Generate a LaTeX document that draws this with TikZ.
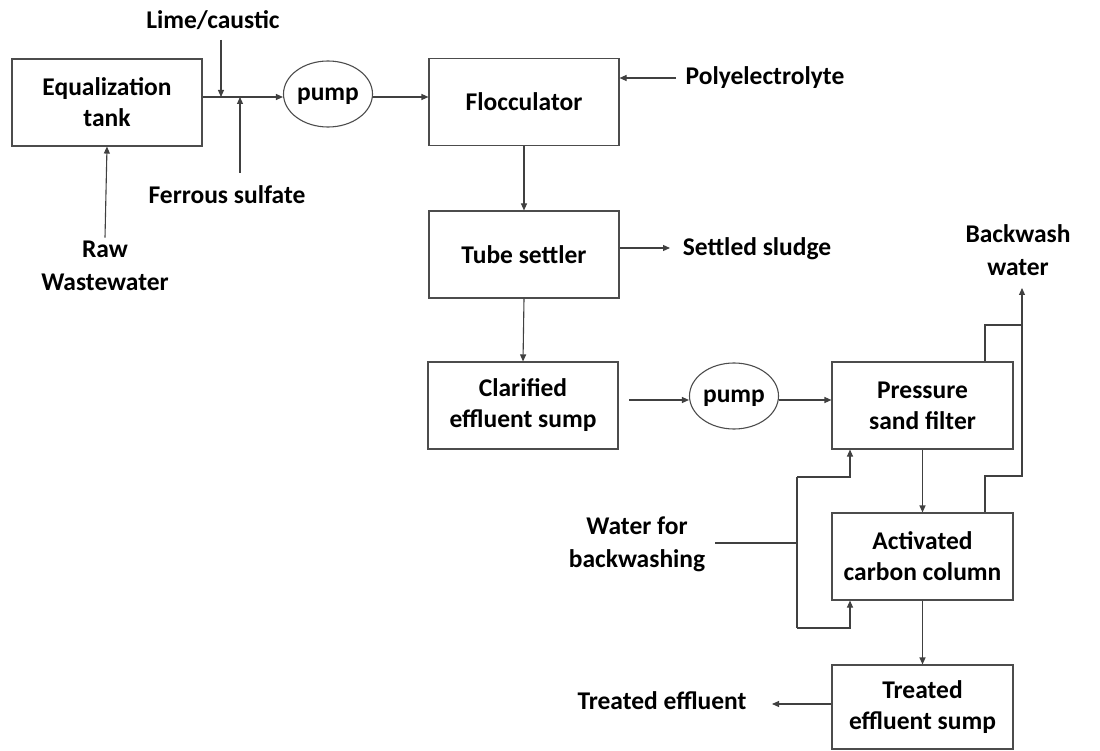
\documentclass[tikz,border=0pt]{standalone}
\usepackage{fontspec}
\setmainfont{Carlito}
\usetikzlibrary{arrows.meta,shapes.geometric}
\begin{document}
\begin{tikzpicture}[x = 1pt, y = -1pt,
    unit/.style = {draw = black!70, line width = 1.1pt, minimum width = 190pt, minimum height = 87pt, align = center, font = \bfseries\fontsize{25.5}{31}\selectfont},
    pumpunit/.style = {ellipse, draw = black!70, line width = 1.1pt, minimum width = 89pt, minimum height = 66pt, inner sep = 0pt, text depth = 0pt, font = \bfseries\fontsize{25.5}{31}\selectfont},
    tag/.style = {align = center, font = \bfseries\fontsize{25.5}{33}\selectfont},
    pipe/.style = {draw = black!75, line width = 1.1pt},
    flow/.style = {pipe, -{Triangle[length = 7pt, width = 6pt]}}]
  \useasboundingbox (0, 0) rectangle (1100, 751);
  % process units
  \node[unit] (eq) at (107, 102.5) {Equalization\\tank};
  \node[pumpunit] (pumpA) at (328, 94) {pump};
  \node[unit] (floc) at (524, 102) {Flocculator};
  \node[unit] (tube) at (524, 254.5) {Tube settler};
  \node[unit] (clar) at (523, 405.5) {Clarified\\effluent sump};
  \node[pumpunit] (pumpB) at (734, 396) {pump};
  \node[unit, minimum width = 181pt] (psf) at (922.5, 405.5) {Pressure\\sand filter};
  \node[unit, minimum width = 181pt] (acc) at (922.5, 556.5) {Activated\\carbon column};
  \node[unit, minimum width = 181pt, minimum height = 84pt] (sump) at (922.5, 707) {Treated\\effluent sump};
  % streams in and out
  \node[tag] (lime) at (213, 20) {Lime/caustic};
  \node[tag] (ferrous) at (227, 195) {Ferrous sulfate};
  \node[tag] (raw) at (105, 266) {Raw\\Wastewater};
  \node[tag] (poly) at (765, 78) {Polyelectrolyte};
  \node[tag] (sludge) at (757, 249) {Settled sludge};
  \node[tag] (bw) at (1018, 250) {Backwash\\water};
  \node[tag] (wfb) at (637, 544) {Water for\\backwashing};
  \node[tag] (treated) at (662, 701) {Treated effluent};
  % junction points
  \coordinate (limeIn) at (221, 97);
  \coordinate (feIn) at (240, 97);
  \coordinate (polyOut) at (676, 78);
  \coordinate (sludgeEnd) at (670, 248);
  \coordinate (clarOut) at (629, 400);
  \coordinate (treatedEnd) at (772, 704);
  \coordinate (bwTop) at (1022, 325);
  \coordinate (bwLow) at (1022, 476);
  \coordinate (bwEnd) at (1022, 288);
  \coordinate (wfbEnd) at (715, 543);
  \coordinate (wfbBus) at (797, 543);
  \coordinate (wfbTop) at (797, 477);
  \coordinate (wfbBot) at (797, 628);
  % main line
  \draw[flow] (eq.east |- limeIn) -- (pumpA.west |- limeIn);
  \draw[flow] (limeIn |- 0, 40) -- (limeIn);
  \draw[flow] (feIn |- 0, 173) -- (feIn);
  \draw[flow] (raw.north) -- (eq.south);
  \draw[flow] (pumpA.east |- limeIn) -- (floc.west |- limeIn);
  \draw[flow] (polyOut) -- (floc.east |- polyOut);
  \draw[flow] (floc.south) -- (tube.north);
  \draw[flow] (tube.east |- sludgeEnd) -- (sludgeEnd);
  \draw[flow] (tube.south) -- (clar.north);
  \draw[flow] (clarOut) -- (pumpB.west |- clarOut);
  \draw[flow] (pumpB.east |- clarOut) -- (psf.west |- clarOut);
  \draw[flow] (psf.south) -- (acc.north);
  \draw[flow] (acc.south) -- (sump.north);
  \draw[flow] (sump.west |- treatedEnd) -- (treatedEnd);
  % backwash lines
  \draw[pipe] (psf.north -| 985, 0) |- (bwTop);
  \draw[pipe] (acc.north -| 985, 0) |- (bwLow) -- (bwTop);
  \draw[flow] (bwTop) -- (bwEnd);
  \draw[pipe] (wfbEnd) -- (wfbBus);
  \draw[pipe] (wfbTop) -- (wfbBot);
  \draw[flow] (wfbTop) -| (psf.south -| 850, 0);
  \draw[flow] (wfbBot) -| (acc.south -| 850, 0);
\end{tikzpicture}
\end{document}
